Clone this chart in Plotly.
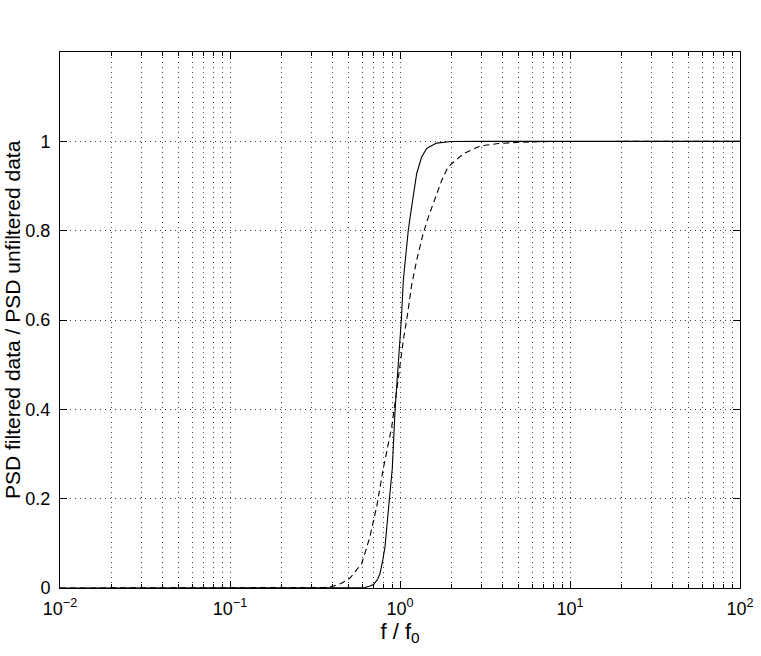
import plotly.graph_objects as go

# values
freq_solid = [0.01, 0.55, 0.62, 0.66, 0.70, 0.74, 0.763, 0.79, 0.816, 0.854, 0.88, 0.901,
              0.935, 0.98, 1.018, 1.046, 1.085, 1.119, 1.155, 1.198, 1.254, 1.34, 1.436,
              1.64, 2.0, 3.0, 100.0]
psd_solid = [0.0, 0.0, 0.001, 0.004, 0.008, 0.02, 0.033, 0.06, 0.092, 0.174, 0.23, 0.268,
             0.398, 0.5, 0.6, 0.689, 0.756, 0.801, 0.838, 0.883, 0.928, 0.965, 0.984,
             0.996, 0.9995, 1.0, 1.0]

freq_dashed = [0.01, 0.30, 0.36, 0.405, 0.45, 0.508, 0.596, 0.666, 0.729, 0.8, 0.85, 0.894,
               0.935, 1.0, 1.046, 1.11, 1.171, 1.254, 1.33, 1.37, 1.47, 1.61, 1.76, 1.92,
               2.36, 2.95, 3.79, 5.08, 8.0, 100.0]
psd_dashed = [0.0, 0.0, 0.001, 0.004, 0.01, 0.022, 0.055, 0.115, 0.182, 0.27, 0.32, 0.361,
              0.414, 0.5, 0.555, 0.615, 0.678, 0.734, 0.778, 0.794, 0.831, 0.875, 0.913, 0.943,
              0.972, 0.9895, 0.995, 0.998, 0.9997, 1.0]

x_tickvals = [0.01, 0.1, 1, 10, 100]
x_ticktext = ["10<sup>\u22122</sup>", "10<sup>\u22121</sup>", "10<sup>0</sup>",
              "10<sup>1</sup>", "10<sup>2</sup>"]
y_tickvals = [0, 0.2, 0.4, 0.6, 0.8, 1]
y_ticktext = ["0", "0.2", "0.4", "0.6", "0.8", "1"]

font_family = "Liberation Sans, Arial, Helvetica, sans-serif"
grid_color = "rgba(0,0,0,0.75)"

fig = go.Figure()

fig.add_trace(go.Scatter(
    x=freq_solid, y=psd_solid, mode="lines",
    line=dict(color="black", width=1.1),
    showlegend=False,
))
fig.add_trace(go.Scatter(
    x=freq_dashed, y=psd_dashed, mode="lines",
    line=dict(color="black", width=1.1, dash="6px,4px"),
    showlegend=False,
))

# y label as an annotation so its place does not depend on the tick labels
fig.add_annotation(
    text="PSD filtered data / PSD unfiltered data",
    xref="paper", yref="paper", x=0, y=0.5,
    xanchor="center", yanchor="middle",
    xshift=-48, textangle=-90, showarrow=False,
    font=dict(size=21),
)

fig.update_layout(
    width=761,
    height=656,
    margin=dict(l=60, r=21, t=52, b=68),
    paper_bgcolor="white",
    plot_bgcolor="white",
    font=dict(family=font_family, size=18, color="black"),
    xaxis=dict(
        type="log",
        range=[-2, 2],
        automargin=False,
        tickvals=x_tickvals,
        ticktext=x_ticktext,
        ticks="inside",
        ticklen=7,
        tickcolor="black",
        ticklabelstandoff=4,
        showline=True,
        linecolor="black",
        linewidth=1,
        mirror="allticks",
        showgrid=True,
        gridcolor=grid_color,
        griddash="1px,4px",
        gridwidth=1,
        zeroline=False,
        minor=dict(
            tickvals=[m * 10 ** e for e in (-2, -1, 0, 1) for m in range(2, 10)],
            ticks="inside",
            ticklen=4,
            tickcolor="black",
            showgrid=True,
            gridcolor=grid_color,
            griddash="1px,4px",
            gridwidth=1,
        ),
        title=dict(text="f / f<sub>0</sub>", standoff=4),
        tickfont=dict(size=18),
    ),
    yaxis=dict(
        range=[0, 1.2],
        automargin=False,
        tickvals=y_tickvals,
        ticktext=y_ticktext,
        ticks="inside",
        ticklen=7,
        tickcolor="black",
        ticklabelstandoff=5,
        showline=True,
        linecolor="black",
        linewidth=1,
        mirror="allticks",
        showgrid=True,
        gridcolor=grid_color,
        griddash="1px,4px",
        gridwidth=1,
        zeroline=False,
        tickfont=dict(size=18),
    ),
)

# drop the default 8px page margin so the figure fills the window
fig.write_html(
    "out.html",
    config={"displayModeBar": False},
    post_script="document.body.style.margin = '0';",
)
